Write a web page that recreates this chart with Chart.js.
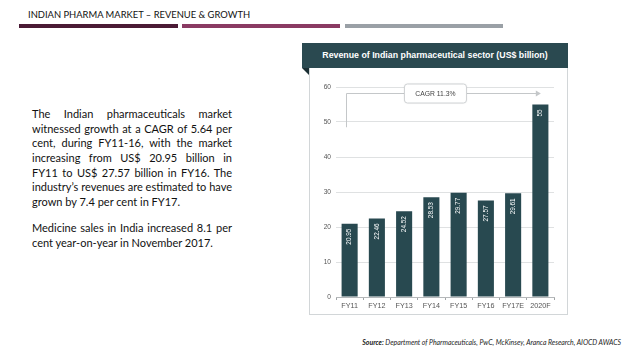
<!DOCTYPE html>
<html>
<head>
<meta charset="utf-8">
<script src="https://cdn.jsdelivr.net/npm/chart.js@4"></script>
<style>
  html, body { margin:0; padding:0; background:#fff; }
  body { width:638px; height:359px; position:relative; overflow:hidden; font-family:"Lato","Open Sans",sans-serif; }
  .title { position:absolute; left:28px; top:9px; font-size:9.4px; color:#111; letter-spacing:0; white-space:nowrap; }
  .bar { position:absolute; top:24px; height:4px; }
  .para { position:absolute; left:32px; width:200px; font-size:11px; color:#111; }
  .ln { height:14.7px; line-height:14.7px; white-space:nowrap; text-align:justify; text-align-last:justify; }
  .ln.l { text-align:left; text-align-last:left; }
  .hdr { position:absolute; left:302px; top:43px; width:266px; height:25px; background:#2a4950; color:#fff; font-family:Arial,"Liberation Sans",sans-serif; font-weight:bold; font-size:8.8px; line-height:25px; text-align:center; }
  .fold { position:absolute; left:302px; top:68px; width:0; height:0; border-top:7px solid #1a2e33; border-left:7px solid transparent; }
  .box { position:absolute; left:309px; top:68px; width:257px; height:246px; border:1.5px solid #d2d6d8; border-top:none; background:#fff; }
  #c { position:absolute; left:310px; top:70px; }
  .src { position:absolute; right:17px; top:338px; font-size:6.9px; font-style:italic; color:#222; white-space:nowrap; }
</style>
</head>
<body>
<div class="title">INDIAN PHARMA MARKET – REVENUE &amp; GROWTH</div>
<div class="bar" style="left:19px;width:159px;background:#4b1a35"></div>
<div class="bar" style="left:182px;width:158px;background:#8a3a63"></div>
<div class="bar" style="left:345px;width:158px;background:#9aa0a6"></div>

<div class="para" style="top:107px">
  <div class="ln">The Indian pharmaceuticals market</div>
  <div class="ln">witnessed growth at a CAGR of 5.64 per</div>
  <div class="ln">cent, during FY11-16, with the market</div>
  <div class="ln">increasing from US$ 20.95 billion in</div>
  <div class="ln">FY11 to US$ 27.57 billion in FY16. The</div>
  <div class="ln">industry’s revenues are estimated to have</div>
  <div class="ln l">grown by 7.4 per cent in FY17.</div>
</div>
<div class="para" style="top:221px">
  <div class="ln">Medicine sales in India increased 8.1 per</div>
  <div class="ln l">cent year-on-year in November 2017.</div>
</div>

<div class="box"></div>
<div class="hdr">Revenue of Indian pharmaceutical sector (US$ billion)</div>
<div class="fold"></div>
<canvas id="c" width="256" height="244"></canvas>

<div class="src"><b>Source:</b> Department of Pharmaceuticals, PwC, McKinsey, Aranca Research, AIOCD AWACS</div>

<script>
const categories = ["FY11","FY12","FY13","FY14","FY15","FY16","FY17E","2020F"];
const revenue = [20.95, 22.46, 24.52, 28.53, 29.77, 27.57, 29.61, 55];
const valueLabels = ["20.95","22.46","24.52","28.53","29.77","27.57","29.61","55"];
const yTicks = [0,10,20,30,40,50,60];
const cagrText = "CAGR 11.3%";
const cagrLineTop = 58.4;
const cagrLineBottom = 48.5;

const barColor = "#284950";

const labelPlugin = {
  id: "valLabels",
  afterDatasetsDraw(chart) {
    const ctx = chart.ctx;
    const meta = chart.getDatasetMeta(0);
    ctx.save();
    ctx.fillStyle = "#fff";
    ctx.font = "6.4px Arial, 'Liberation Sans', sans-serif";
    meta.data.forEach((bar, i) => {
      ctx.save();
      ctx.translate(bar.x, bar.y + 5);
      ctx.rotate(-Math.PI/2);
      ctx.textAlign = "right";
      ctx.textBaseline = "middle";
      ctx.fillText(valueLabels[i], 0, 0);
      ctx.restore();
    });
    ctx.restore();
  }
};

const cagrPlugin = {
  id: "cagr",
  beforeDatasetsDraw(chart) {
    const ctx = chart.ctx;
    const xs = chart.scales.x, ys = chart.scales.y;
    const cw = xs.getPixelForValue(1) - xs.getPixelForValue(0);
    const x0 = xs.getPixelForValue(0) - cw*0.13;
    const x1 = xs.getPixelForValue(categories.length-1) - cw*0.13;
    const yTop = Math.round(ys.getPixelForValue(cagrLineTop)) + 0.5;
    const yBot = ys.getPixelForValue(cagrLineBottom);
    ctx.save();
    ctx.strokeStyle = "#c4c7c9";
    ctx.lineWidth = 1;
    ctx.beginPath();
    ctx.moveTo(Math.round(x0)+0.5, yBot);
    ctx.lineTo(Math.round(x0)+0.5, yTop);
    ctx.lineTo(x1, yTop);
    ctx.stroke();
    ctx.fillStyle = "#c4c7c9";
    ctx.beginPath();
    ctx.moveTo(x1+4, yTop);
    ctx.lineTo(x1-1, yTop-3);
    ctx.lineTo(x1-1, yTop+3);
    ctx.closePath();
    ctx.fill();
    const bx = xs.getPixelForValue(3.15);
    const bw = 62, bh = 19;
    const left = bx - bw/2, top = yTop - bh/2;
    ctx.shadowColor = "rgba(0,0,0,0.12)";
    ctx.shadowBlur = 2;
    ctx.fillStyle = "#fff";
    ctx.strokeStyle = "#cfd2d4";
    ctx.beginPath();
    ctx.roundRect(left, top, bw, bh, 3);
    ctx.fill();
    ctx.shadowColor = "transparent";
    ctx.stroke();
    ctx.fillStyle = "#444";
    ctx.font = "6.8px Arial, 'Liberation Sans', sans-serif";
    ctx.textAlign = "center";
    ctx.textBaseline = "middle";
    ctx.fillText(cagrText, bx, yTop + 0.5);
    ctx.restore();
  }
};

new Chart(document.getElementById("c"), {
  type: "bar",
  data: {
    labels: categories,
    datasets: [{ data: revenue, backgroundColor: barColor, barPercentage: 0.59, categoryPercentage: 1 }]
  },
  options: {
    responsive: false,
    animation: false,
    devicePixelRatio: 1,
    layout: { padding: { top: 17, right: 12, left: 0, bottom: 0 } },
    plugins: { legend: { display: false }, tooltip: { enabled: false } },
    scales: {
      x: {
        offset: true,
        grid: { offset: true, drawOnChartArea: false, tickLength: 3, color: "#a0a4a6" },
        border: { color: "#b5b8ba" },
        ticks: { font: { size: 7.2, family: "Arial, 'Liberation Sans', sans-serif" }, color: "#555", padding: 2, maxRotation: 0 },
        afterFit(s) { s.height = 17; }
      },
      y: {
        min: 0, max: 60,
        afterBuildTicks(s) { s.ticks = yTicks.map(v => ({ value: v })); },
        grid: { color: "#dfe1e2", drawTicks: false },
        border: { display: false },
        ticks: { font: { size: 6.6, family: "Arial, 'Liberation Sans', sans-serif" }, color: "#555", padding: 5 },
        afterFit(s) { s.width = 26; }
      }
    }
  },
  plugins: [cagrPlugin, labelPlugin]
});
</script>
</body>
</html>
